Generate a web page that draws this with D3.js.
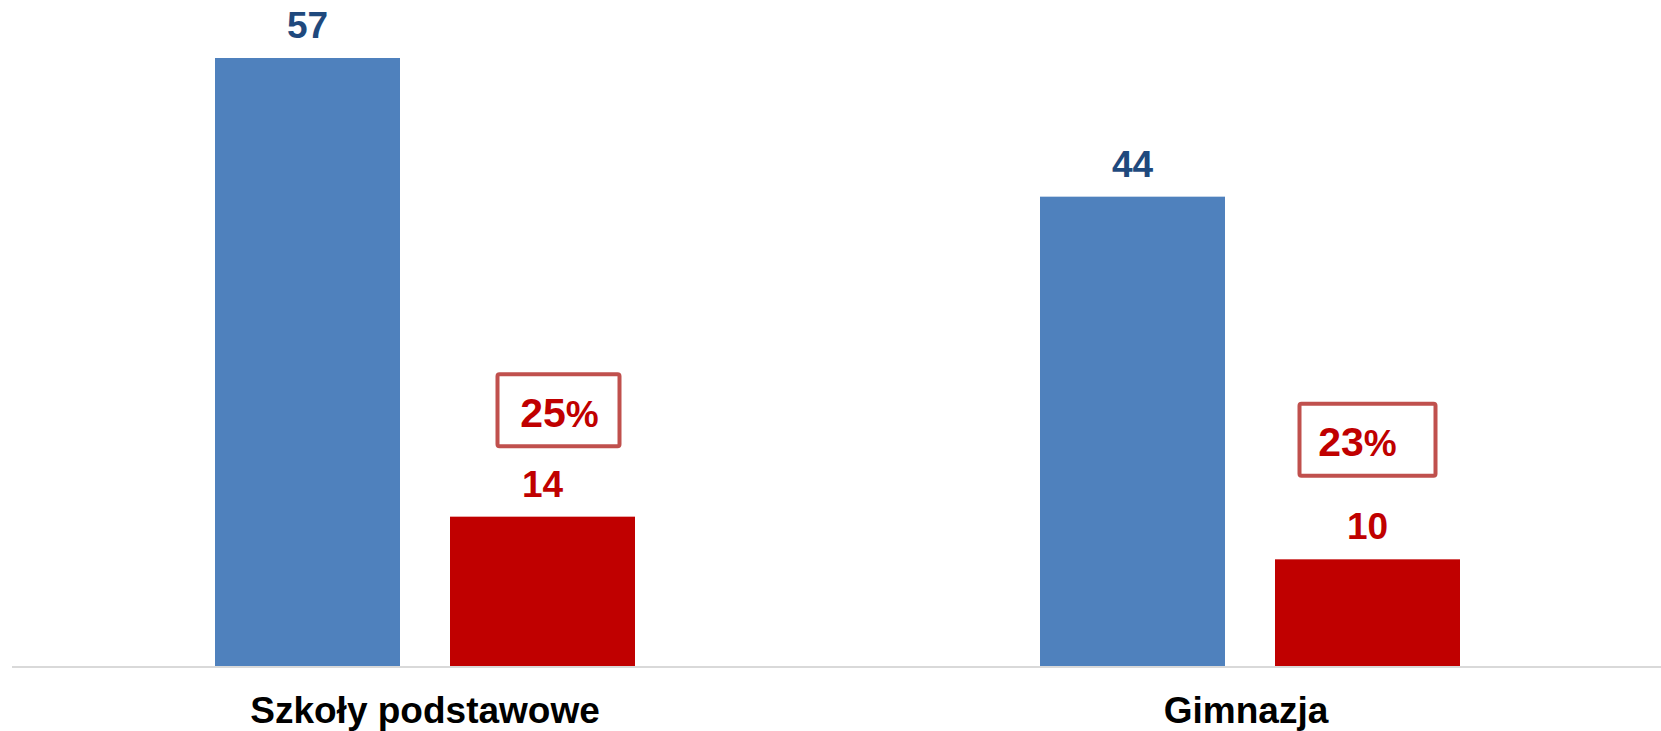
<!DOCTYPE html>
<html>
<head>
<meta charset="utf-8">
<script src="https://cdn.jsdelivr.net/npm/d3@7"></script>
<style>
  html, body { margin: 0; padding: 0; background: #fff; }
  svg { display: block; font-family: "Liberation Sans", Arial, sans-serif; }
</style>
</head>
<body>
<svg id="chart" width="1661" height="731"></svg>
<script>
const categories = ["Szkoły podstawowe", "Gimnazja"];
const seriesKeys = ["all", "share"];
const seriesA = [57, 44];
const seriesB = [14, 10];
const percentLabels = ["25%", "23%"];

const W = 1661, H = 731;
const svg = d3.select("#chart");

const x0 = d3.scaleBand().domain(categories).range([12.5, 1662.5]).paddingInner(0).paddingOuter(0);
const x1 = d3.scaleBand().domain(seriesKeys).range([0, 420]).paddingInner(50 / 235).paddingOuter(0);
const y = d3.scaleLinear().domain([0, 60]).range([666, 26]);

const colors = { all: "#4f81bd", share: "#c00000" };
const labelColors = { all: "#1f497d", share: "#c00000" };

const rows = categories.map((c, i) => ({ cat: c, all: seriesA[i], share: seriesB[i], pct: percentLabels[i] }));

const groupOffset = (x0.bandwidth() - 420) / 2;

const g = svg.append("g");
const groups = g.selectAll("g.grp").data(rows).join("g")
  .attr("class", "grp")
  .attr("transform", d => `translate(${x0(d.cat) + groupOffset},0)`);

groups.selectAll("rect").data(d => seriesKeys.map(k => ({ k, v: d[k] }))).join("rect")
  .attr("x", d => x1(d.k))
  .attr("y", d => y(d.v))
  .attr("width", x1.bandwidth())
  .attr("height", d => y(0) - y(d.v))
  .attr("fill", d => colors[d.k]);

groups.selectAll("text.val").data(d => seriesKeys.map(k => ({ k, v: d[k] }))).join("text")
  .attr("class", "val")
  .attr("x", d => x1(d.k) + x1.bandwidth() / 2)
  .attr("y", d => y(d.v) - 20)
  .attr("text-anchor", "middle")
  .attr("font-weight", "bold")
  .attr("font-size", 37)
  .attr("fill", d => labelColors[d.k])
  .text(d => d.v);

// percentage boxes
const boxW = [126, 140], boxDX = [16, 0], boxGap = [69, 82];
groups.each(function(d, i) {
  const gg = d3.select(this);
  const cx = x1("share") + x1.bandwidth() / 2 + boxDX[i];
  const bottom = y(d.share) - boxGap[i];
  const bh = 72;
  gg.append("rect")
    .attr("x", cx - boxW[i] / 2 + 2)
    .attr("y", bottom - bh - 1.5)
    .attr("width", boxW[i] - 4)
    .attr("height", bh)
    .attr("rx", 2)
    .attr("fill", "#fff")
    .attr("stroke", "#c0504d")
    .attr("stroke-width", 4);
  const t = gg.append("text")
    .attr("x", cx - (i === 1 ? 10 : -1))
    .attr("y", bottom - 21)
    .attr("text-anchor", "middle")
    .attr("font-weight", "bold")
    .attr("fill", "#c00000");
  t.append("tspan").attr("font-size", 41).text(d.pct.replace("%", ""));
  t.append("tspan").attr("font-size", 37).text("%");
});

// axis baseline
const xAxis = d3.axisBottom(x0).tickSize(0).tickPadding(0);
const ax = svg.append("g").attr("transform", `translate(0,${y(0)})`).call(xAxis);
ax.select(".domain").attr("stroke", "#d9d9d9").attr("stroke-width", 2).attr("d", `M12,1H${W}`);
ax.selectAll(".tick text")
  .attr("y", 57)
  .attr("dy", 0)
  .attr("dx", (d, i) => i === 1 ? -4 : 0)
  .attr("font-size", 37)
  .attr("font-weight", "bold")
  .attr("font-family", "'Liberation Sans', Arial, sans-serif")
  .attr("fill", "#000");
</script>
</body>
</html>
